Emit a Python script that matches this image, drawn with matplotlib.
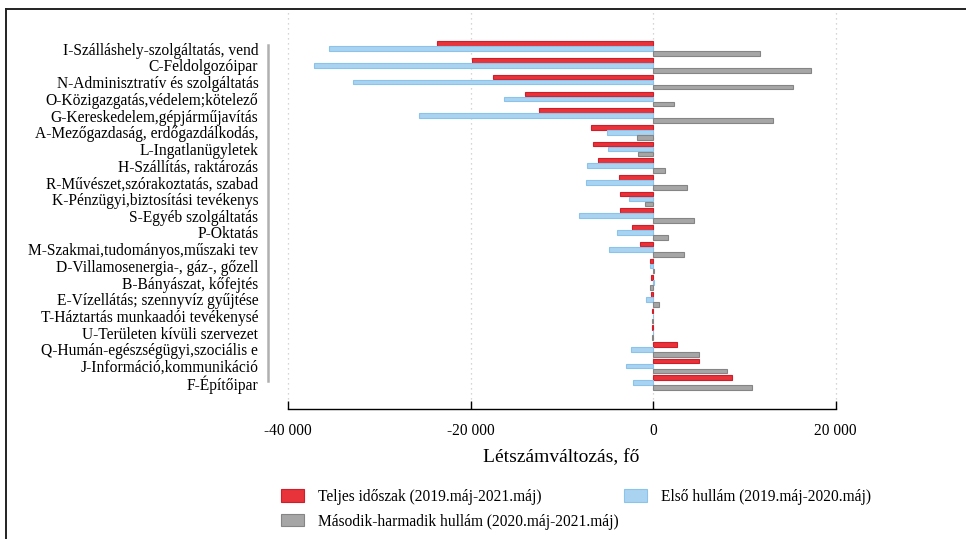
import matplotlib.pyplot as plt
from matplotlib.lines import Line2D
from matplotlib.ticker import FuncFormatter

plt.rcParams['font.family'] = ['Liberation Serif', 'DejaVu Serif']

categories = [
    "I-Szálláshely-szolgáltatás, vend",
    "C-Feldolgozóipar",
    "N-Adminisztratív és szolgáltatás",
    "O-Közigazgatás,védelem;kötelező",
    "G-Kereskedelem,gépjárműjavítás",
    "A-Mezőgazdaság, erdőgazdálkodás,",
    "L-Ingatlanügyletek",
    "H-Szállítás, raktározás",
    "R-Művészet,szórakoztatás, szabad",
    "K-Pénzügyi,biztosítási tevékenys",
    "S-Egyéb szolgáltatás",
    "P-Oktatás",
    "M-Szakmai,tudományos,műszaki tev",
    "D-Villamosenergia-, gáz-, gőzell",
    "B-Bányászat, kőfejtés",
    "E-Vízellátás; szennyvíz gyűjtése",
    "T-Háztartás munkaadói tevékenysé",
    "U-Területen kívüli szervezet",
    "Q-Humán-egészségügyi,szociális e",
    "J-Információ,kommunikáció",
    "F-Építőipar",
]

# Teljes időszak (2019.máj-2021.máj)
teljes = [-23700, -19800, -17500, -14000, -12500, -6850, -6620, -6000, -3720, -3650,
          -3650, -2350, -1450, -300, -250, -230, -150, -120, 2590, 5060, 8660]
# Első hullám (2019.máj-2020.máj)
elso = [-35500, -37160, -32900, -16350, -25650, -5020, -4980, -7290, -7410, -2700,
        -8080, -4000, -4860, -400, 80, -820, -60, -30, -2470, -3020, -2160]
# Második-harmadik hullám (2020.máj-2021.máj)
masodik = [11650, 17330, 15370, 2310, 13130, -1800, -1650, 1250, 3680, -940,
           4470, 1610, 3410, 100, -330, 590, -90, -90, 5020, 8080, 10780]

labels = ["Teljes időszak (2019.máj-2021.máj)",
          "Első hullám (2019.máj-2020.máj)",
          "Második-harmadik hullám (2020.máj-2021.máj)"]

W, H = 966, 539
fig = plt.figure(figsize=(W / 100, H / 100), dpi=100)

# axes placed in pixel terms
left_px, right_px, top_px, bottom_px = 268, 854, 12, 409
ax = fig.add_axes([left_px / W, 1 - bottom_px / H,
                   (right_px - left_px) / W, (bottom_px - top_px) / H])

y = list(range(len(categories)))
bh = 0.28
off = 0.3
b1 = ax.barh([v - off for v in y], teljes, height=bh, color='#e8333b',
             edgecolor='#d01e28', linewidth=0.8, label=labels[0])
b2 = ax.barh(y, elso, height=bh, color='#a9d3f1',
             edgecolor='#8cc3ea', linewidth=0.8, label=labels[1])
b3 = ax.barh([v + off for v in y], masodik, height=bh, color='#a6a6a6',
             edgecolor='#858585', linewidth=0.8, label=labels[2])

ax.set_xlim(-42190, 22000)
ax.set_ylim(21.57, -2.2)

ax.set_yticks(y)
ax.set_yticklabels(categories, fontsize=11.2)
ax.tick_params(axis='y', length=0, pad=7)

ax.set_xticks([-40000, -20000, 0, 20000])
ax.xaxis.set_major_formatter(FuncFormatter(lambda v, p: f"{int(v):,}".replace(",", " ")))
ax.tick_params(axis='x', direction='in', length=6, width=1, labelsize=11.2, pad=10)
ax.grid(axis='x', linestyle=(0, (1, 3)), color='#c8c8c8', linewidth=0.9)
ax.set_axisbelow(True)

for s in ['top', 'right']:
    ax.spines[s].set_visible(False)
ax.spines['bottom'].set_bounds(-40000, 20000)
ax.spines['bottom'].set_linewidth(1.0)
ax.spines['left'].set_bounds(-0.25, 19.9)
ax.spines['left'].set_color('#b0b0b0')
ax.spines['left'].set_linewidth(1.8)

ax.set_xlabel("Létszámváltozás, fő", fontsize=14, labelpad=7)

fig.legend(handles=[b1, b3, b2], labels=[labels[0], labels[2], labels[1]],
           ncol=2, loc='upper left', bbox_to_anchor=(281 / W, 1 - 489 / H),
           frameon=False, fontsize=11.2, handlelength=1.5, handleheight=0.85,
           handletextpad=0.9, columnspacing=0.3, labelspacing=0.55, borderpad=0,
           borderaxespad=0)

# outer frame (top and left edges)
fig.add_artist(Line2D([6 / W, 1], [1 - 9 / H, 1 - 9 / H], color='#222222',
                      linewidth=1.4, transform=fig.transFigure))
fig.add_artist(Line2D([6 / W, 6 / W], [0, 1 - 9 / H], color='#222222',
                      linewidth=1.4, transform=fig.transFigure))

fig.savefig("out.png", dpi=100)
